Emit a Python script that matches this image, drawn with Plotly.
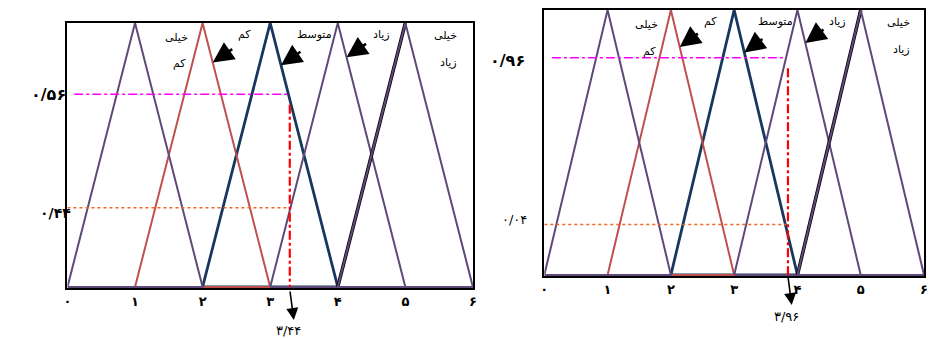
import plotly.graph_objects as go

# Fuzzy sets: triangular membership functions, peak at each centre, half-width 1
centers = [1, 2, 3, 4, 5]
set_names = ["خیلی کم", "کم", "متوسط", "زیاد", "خیلی زیاد"]
set_colors = ["#5f497a", "#c0504d", "#17375e", "#5f497a", "#5f497a"]
draw_order = [2, 1, 0, 3, 4]

tick_vals = [0, 1, 2, 3, 4, 5, 6]
tick_text = ["۰", "۱", "۲", "۳", "۴", "۵", "۶"]

# Left panel (levels as drawn in the picture)
left_mu_high = 0.73
left_mu_low = 0.30
left_cut = 3.29
left_labels = ["۰/۵۶", "۰/۴۴", "۳/۴۴"]
left_arrow_mu = [0.85, 0.84, 0.87]

# Right panel
right_mu_high = 0.82
right_mu_low = 0.19
right_cut = 3.85
right_labels = ["۰/۹۶", "۰/۰۴", "۳/۹۶"]
right_arrow_mu = [0.86, 0.84, 0.875]

FONT = "DejaVu Sans"
# positions below are page pixels, converted to paper fractions
W, H = 930, 338


def px_x(p):
    return p / W


def px_y(p):
    return (H - p) / H


fig = go.Figure()
annotations = []


def add_panel(xa, ya, mu_high, mu_low, cut, labels, arrow_mu, mag_start, arrow_y, label_y):
    # membership triangles
    for i in draw_order:
        c = centers[i]
        if i == 4:
            fig.add_trace(go.Scatter(
                x=[c - 1, c], y=[0, 1], mode="lines", xaxis=xa, yaxis=ya,
                line=dict(color="black", width=3.5), hoverinfo="skip", showlegend=False))
        width = 2.8 if i == 2 else 2
        fig.add_trace(go.Scatter(
            x=[c - 1, c, c + 1, c - 1], y=[0, 1, 0, 0], mode="lines",
            xaxis=xa, yaxis=ya, name=set_names[i],
            line=dict(color=set_colors[i], width=width), showlegend=False))
    # guide lines
    fig.add_trace(go.Scatter(
        x=[mag_start, cut - 0.04], y=[mu_high, mu_high], mode="lines", xaxis=xa, yaxis=ya,
        line=dict(color="#ff00ff", width=1.5, dash="dashdot"), hoverinfo="skip", showlegend=False))
    fig.add_trace(go.Scatter(
        x=[0, cut - 0.03], y=[mu_low, mu_low], mode="lines", xaxis=xa, yaxis=ya,
        line=dict(color="#f26522", width=1.5, dash="dot"), hoverinfo="skip", showlegend=False))
    fig.add_trace(go.Scatter(
        x=[cut, cut], y=[mu_high - 0.04, 0], mode="lines", xaxis=xa, yaxis=ya,
        line=dict(color="#ff0000", width=2.2, dash="dashdot"), hoverinfo="skip", showlegend=False))

    # set names inside the box
    txt = dict(xref=xa, yref=ya, showarrow=False, font=dict(family=FONT, size=11, color="black"))
    annotations.append(dict(x=centers[0] + 0.62, y=0.945, text="خیلی", **txt))
    annotations.append(dict(x=centers[0] + 0.66, y=0.845, text="کم", **txt))
    annotations.append(dict(x=centers[1] + 0.62, y=0.958, text="کم", **txt))
    annotations.append(dict(x=centers[2] + 0.65, y=0.955, text="متوسط", **txt))
    annotations.append(dict(x=centers[3] + 0.64, y=0.958, text="زیاد", **txt))
    annotations.append(dict(x=centers[4] + 0.6, y=0.952, text="خیلی", **txt))
    annotations.append(dict(x=centers[4] + 0.64, y=0.85, text="زیاد", **txt))

    # pointer arrows onto the falling edges
    for k, mu in zip([1, 2, 3], arrow_mu):
        hx = centers[k] + (1 - mu)
        annotations.append(dict(
            x=hx, y=mu, ax=hx + 0.31, ay=mu + 0.055, xref=xa, yref=ya,
            axref=xa, ayref=ya, text="", showarrow=True,
            arrowhead=2, arrowsize=1.6, arrowwidth=2.6, arrowcolor="black"))

    # downward arrow to the crisp output (below the axis, so in paper units)
    annotations.append(dict(
        x=cut + 0.06, y=px_y(arrow_y), xref=xa, yref="paper", ax=-4, ay=-30,
        text="", showarrow=True, arrowhead=2, arrowsize=1.5, arrowwidth=1.6,
        arrowcolor="black"))
    annotations.append(dict(x=cut - 0.02, y=px_y(label_y), xref=xa, yref="paper",
                            yanchor="middle", showarrow=False, text=labels[2],
                            font=dict(family=FONT, size=13, color="black")))


add_panel("x", "y", left_mu_high, left_mu_low, left_cut, left_labels, left_arrow_mu,
          0.1, 320, 330)
add_panel("x2", "y2", right_mu_high, right_mu_low, right_cut, right_labels, right_arrow_mu,
          0.12, 305, 316)

# membership degree labels left of each box
annotations.append(dict(x=px_x(25), y=left_mu_high, xref="paper", yref="y", showarrow=False,
                        text="<b>" + left_labels[0] + "</b>", font=dict(family=FONT, size=16, color="black")))
annotations.append(dict(x=px_x(34), y=left_mu_low - 0.02, xref="paper", yref="y", showarrow=False,
                        text="<b>" + left_labels[1] + "</b>", font=dict(family=FONT, size=14, color="black")))
annotations.append(dict(x=px_x(508), y=right_mu_high - 0.01, xref="paper", yref="y2", showarrow=False,
                        text="<b>" + right_labels[0] + "</b>", font=dict(family=FONT, size=16, color="black")))
annotations.append(dict(x=px_x(515), y=right_mu_low + 0.02, xref="paper", yref="y2", showarrow=False,
                        text=right_labels[1], font=dict(family=FONT, size=13, color="black")))

axis_common = dict(showline=True, mirror=True, linecolor="black", linewidth=2,
                   showgrid=False, zeroline=False, layer="below traces", fixedrange=True)
bold_ticks = ["<b>" + t + "</b>" for t in tick_text]

fig.update_layout(
    width=W, height=H,
    margin=dict(l=0, r=0, t=0, b=0),
    paper_bgcolor="white", plot_bgcolor="white",
    showlegend=False,
    xaxis=dict(domain=[px_x(64), px_x(473)], range=[0, 6], anchor="y",
               tickvals=tick_vals, ticktext=bold_ticks, ticks="", ticklabelstandoff=0,
               tickfont=dict(family=FONT, size=13, color="black"), **axis_common),
    yaxis=dict(domain=[px_y(288), px_y(23)], range=[-0.004, 1.0], anchor="x",
               showticklabels=False, ticks="", **axis_common),
    xaxis2=dict(domain=[px_x(545), px_x(928)], range=[0, 6], anchor="y2",
                tickvals=tick_vals, ticktext=bold_ticks, ticks="", ticklabelstandoff=0,
                tickfont=dict(family=FONT, size=13, color="black"), **axis_common),
    yaxis2=dict(domain=[px_y(276), px_y(10)], range=[-0.004, 1.0], anchor="x2",
                showticklabels=False, ticks="", **axis_common),
    annotations=annotations,
)

# drop the default page margin so the 930x338 figure fills the window
fig.write_html(
    "out.html",
    default_width=f"{W}px",
    default_height=f"{H}px",
    config={"displayModeBar": False},
    post_script="document.body.style.margin='0';document.body.style.overflow='hidden';",
)
